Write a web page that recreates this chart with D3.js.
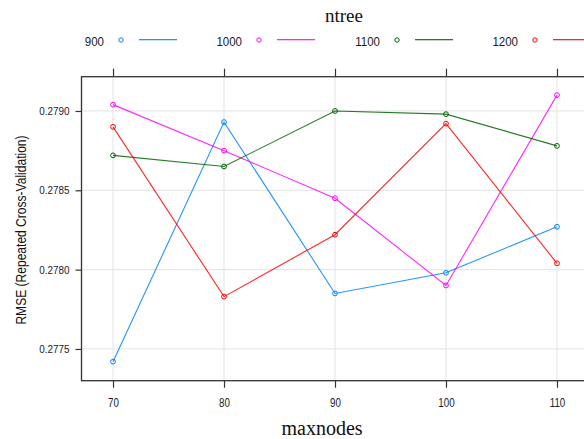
<!DOCTYPE html>
<html><head><meta charset="utf-8">
<script src="https://cdn.jsdelivr.net/npm/d3@7"></script>
<style>body{margin:0;background:#fff}svg{display:block}</style>
</head><body>
<script>
const maxnodes = [70, 80, 90, 100, 110];
const ntree = ["900", "1000", "1100", "1200"];
const rmse900  = [0.27742, 0.27893, 0.27785, 0.27798, 0.27827];
const rmse1000 = [0.27904, 0.27875, 0.27845, 0.27790, 0.27910];
const rmse1100 = [0.27872, 0.27865, 0.27900, 0.27898, 0.27878];
const rmse1200 = [0.27890, 0.27783, 0.27822, 0.27892, 0.27804];
const yTicks = [0.2775, 0.2780, 0.2785, 0.2790];
const colors = ["#0080ff", "#ff00ff", "#006400", "#ff0000"];

const series = [rmse900, rmse1000, rmse1100, rmse1200];
const W = 584, H = 439;
const svg = d3.select("body").append("svg").attr("width", W).attr("height", H);

const L = 81.5, R = 588.5, T = 76.7, B = 380.7;
const x = d3.scaleLinear().domain([67.16, 112.84]).range([L, R]);
const y = d3.scaleLinear().domain([0.2773, 0.279216]).range([B, T]);

function narrow(sel, f) {
  sel.each(function () {
    const w = this.getComputedTextLength();
    if (w > 0) d3.select(this).attr("textLength", w * f).attr("lengthAdjust", "spacingAndGlyphs");
  });
}

// grid
const g = svg.append("g");
g.selectAll(".gx").data(maxnodes).join("line")
  .attr("x1", d => x(d)).attr("x2", d => x(d)).attr("y1", T).attr("y2", B)
  .attr("stroke", "#e8e8e8").attr("stroke-width", 1.2);
g.selectAll(".gy").data(yTicks).join("line")
  .attr("x1", L).attr("x2", R).attr("y1", d => y(d)).attr("y2", d => y(d))
  .attr("stroke", "#e8e8e8").attr("stroke-width", 1.2);

// series
const line = d3.line().x((d, i) => x(maxnodes[i])).y(d => y(d));
series.forEach((s, k) => {
  svg.append("path").datum(s).attr("d", line).attr("fill", "none")
    .attr("stroke", colors[k]).attr("stroke-width", 1.1).attr("opacity", 0.85);
  svg.selectAll(null).data(s).join("circle")
    .attr("cx", (d, i) => x(maxnodes[i])).attr("cy", d => y(d)).attr("r", 2.4)
    .attr("fill", "none").attr("stroke", colors[k]).attr("stroke-width", 1);
});

// axes
const font = "'Liberation Sans', Arial, sans-serif";
const ax = svg.append("g").attr("transform", `translate(0,${B})`)
  .call(d3.axisBottom(x).tickValues(maxnodes).tickSize(7).tickPadding(10).tickFormat(d3.format("d")));
const ax2 = svg.append("g").attr("transform", `translate(0,${T})`)
  .call(d3.axisTop(x).tickValues(maxnodes).tickSize(8).tickFormat(""));
const ay = svg.append("g").attr("transform", `translate(${L},0)`)
  .call(d3.axisLeft(y).tickValues(yTicks).tickSize(6).tickPadding(6).tickFormat(d3.format(".4f")));
[ax, ax2, ay].forEach(a => {
  a.select(".domain").remove();
  a.selectAll(".tick line").attr("stroke", "#333").attr("stroke-width", 1.2);
  a.selectAll("text").attr("font-family", font).attr("fill", "#1a1a2a");
});
ax.selectAll("text").attr("font-size", 12.5).call(narrow, 0.78);
ay.selectAll("text").attr("font-size", 11.5).call(narrow, 0.86);

// panel border
svg.append("rect").attr("x", L).attr("y", T).attr("width", R - L).attr("height", B - T)
  .attr("fill", "none").attr("stroke", "#333").attr("stroke-width", 1.3);

// axis titles
svg.append("text").attr("x", 322).attr("y", 435).attr("text-anchor", "middle")
  .attr("font-family", "'Liberation Serif', 'Times New Roman', serif").attr("font-size", 20)
  .attr("fill", "#111").text("maxnodes");
svg.append("text").attr("transform", "translate(26,230) rotate(-90)").attr("text-anchor", "middle")
  .attr("font-family", font).attr("font-size", 14).attr("fill", "#111")
  .text("RMSE (Repeated Cross-Validation)").call(narrow, 0.86);

// legend
svg.append("text").attr("x", 344).attr("y", 22).attr("text-anchor", "middle")
  .attr("font-family", "'Liberation Serif', 'Times New Roman', serif").attr("font-size", 19)
  .attr("fill", "#111").text("ntree");
const lg = svg.append("g");
ntree.forEach((n, k) => {
  const bx = 104 + k * 138;
  lg.append("text").attr("x", bx).attr("y", 46).attr("text-anchor", "end")
    .attr("font-family", font).attr("font-size", 12.5).attr("fill", "#1a1a2a").text(n)
    .call(narrow, 0.92);
  lg.append("circle").attr("cx", bx + 17).attr("cy", 40).attr("r", 2.2)
    .attr("fill", "none").attr("stroke", colors[k]).attr("stroke-width", 1);
  lg.append("rect").attr("x", bx + 35).attr("width", 38).attr("y", 39).attr("height", 1.3)
    .attr("fill", colors[k]).attr("opacity", 0.85);
});
</script>
</body></html>
